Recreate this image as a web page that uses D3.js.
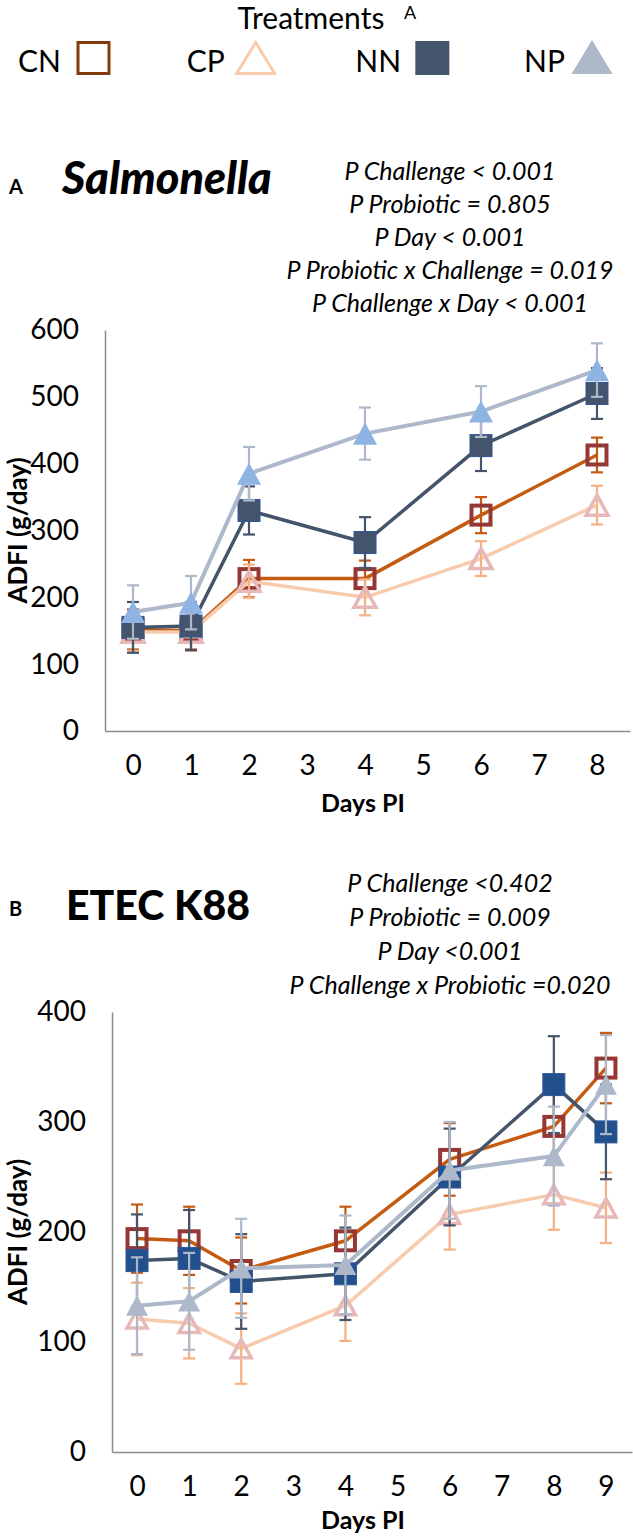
<!DOCTYPE html>
<html><head><meta charset="utf-8">
<script src="https://cdn.jsdelivr.net/npm/d3@7"></script>
<style>
html,body{margin:0;padding:0;background:#fff;}
svg{display:block;font-family:Lato,"Open Sans",sans-serif;}
</style></head>
<body>
<svg id="chart" width="633" height="1537"></svg>
<script>
// ---------- DATA ----------
const treatments = ["CN", "CP", "NN", "NP"];
const legendTitle = "Treatments";

// Panel A: Salmonella
const daysA = [0, 1, 2, 4, 6, 8];
const xTicksA = [0, 1, 2, 3, 4, 5, 6, 7, 8];
const yTicksA = [0, 100, 200, 300, 400, 500, 600];
const cnA = [152, 150, 228, 228, 323, 413];
const cnA_se = [30, 28, 28, 27, 27, 26];
const cpA = [148, 148, 224, 200, 258, 338];
const cpA_se = [28, 28, 25, 27, 26, 29];
const nnA = [155, 157, 330, 282, 427, 505];
const nnA_se = [38, 36, 36, 38, 38, 38];
const npA = [178, 192, 385, 445, 478, 540];
const npA_se = [40, 40, 40, 39, 38, 40];
const statsA = ["P Challenge < 0.001", "P Probiotic = 0.805", "P Day < 0.001",
  "P Probiotic x Challenge = 0.019", "P Challenge x Day < 0.001"];

// Panel B: ETEC K88
const daysB = [0, 1, 2, 4, 6, 8, 9];
const xTicksB = [0, 1, 2, 3, 4, 5, 6, 7, 8, 9];
const yTicksB = [0, 100, 200, 300, 400];
const cnB = [194, 192, 165, 192, 266, 296, 349];
const cnB_se = [31, 31, 30, 31, 33, 35, 32];
const cpB = [121, 117, 94, 133, 216, 234, 222];
const cpB_se = [33, 32, 32, 32, 32, 32, 32];
const nnB = [174, 176, 155, 162, 250, 334, 291];
const nnB_se = [42, 44, 43, 42, 44, 44, 43];
const npB = [133, 137, 167, 170, 256, 269, 334];
const npB_se = [44, 44, 45, 45, 44, 45, 45];
const statsB = ["P Challenge <0.402", "P Probiotic = 0.009", "P Day <0.001",
  "P Challenge x Probiotic =0.020"];

// ---------- STYLE ----------
const lineCol = {CN: "#c55a11", CP: "#f8cbad", NN: "#44546a", NP: "#adb9ca"};
const errCol = {CN: "#c55a11", CP: "#f4b183", NN: "#44546a", NP: "#adb9ca"};
const axisCol = "#8c8c8c";

const svg = d3.select("#chart");

function triPath(cx, cy, w, h) {
  return `M${cx},${cy - h / 2}L${cx + w / 2},${cy + h / 2}L${cx - w / 2},${cy + h / 2}Z`;
}

// ---------- LEGEND ----------
svg.append("text").attr("x", 311).attr("y", 29).attr("text-anchor", "middle")
  .attr("font-size", 30).text(legendTitle);
svg.append("text").attr("x", 410).attr("y", 19).attr("text-anchor", "middle")
  .attr("font-size", 18).text("A");

const legX = d3.scalePoint().domain(treatments).range([18, 524]);
const legG = svg.append("g");
treatments.forEach(t => {
  legG.append("text").attr("x", legX(t)).attr("y", 72).attr("font-size", 30).text(t);
});
// CN open square
legG.append("rect").attr("x", legX("CN") + 60).attr("y", 42.5).attr("width", 31).attr("height", 31)
  .attr("fill", "none").attr("stroke", "#843c0c").attr("stroke-width", 3);
// CP open triangle
legG.append("path").attr("d", triPath(legX("CP") + 69, 58, 38, 31))
  .attr("fill", "none").attr("stroke", "#f8cbad").attr("stroke-width", 3);
// NN filled square
legG.append("rect").attr("x", legX("NN") + 60).attr("y", 41).attr("width", 34).attr("height", 34)
  .attr("fill", "#44546a");
// NP filled triangle
legG.append("path").attr("d", triPath(legX("NP") + 68, 57, 41, 34)).attr("fill", "#adb9ca");

// ---------- PANEL ----------
function panel(cfg) {
  const g = svg.append("g");
  const x = d3.scaleLinear().domain(cfg.xDomain).range(cfg.xRange);
  const y = d3.scaleLinear().domain([0, cfg.yMax]).range(cfg.yRange);

  // panel letter and title
  g.append("text").attr("x", 9).attr("y", cfg.letterY).attr("font-size", 20)
    .attr("font-weight", "bold").text(cfg.letter);
  g.append("text").attr("x", cfg.titleX).attr("y", cfg.titleY).attr("font-size", cfg.titleSize)
    .attr("font-weight", 900).attr("font-style", cfg.titleStyle).text(cfg.title);
  cfg.stats.forEach((s, i) => {
    g.append("text").attr("x", 450).attr("y", cfg.statsY + i * cfg.statsStep).attr("text-anchor", "middle")
      .attr("font-size", 25).attr("font-style", "italic").text(s);
  });

  // axes
  const yAxis = d3.axisLeft(y).tickValues(cfg.yTicks).tickSize(0).tickPadding(26).tickFormat(d3.format("d"));
  const ya = g.append("g").attr("transform", `translate(${cfg.xRange[0]},0)`).call(yAxis);
  const xAxis = d3.axisBottom(x).tickValues(cfg.xTicks).tickSize(0).tickPadding(24).tickFormat(d3.format("d"));
  const xa = g.append("g").attr("transform", `translate(0,${cfg.yRange[0]})`).call(xAxis);
  [ya, xa].forEach(a => {
    a.select(".domain").attr("stroke", axisCol).attr("stroke-width", 1.5);
    a.selectAll("text").attr("font-size", 28).attr("font-family", "Lato").attr("fill", "#000");
  });

  // axis titles
  const midY = (cfg.yRange[0] + cfg.yRange[1]) / 2;
  g.append("text").attr("transform", `translate(${cfg.yTitleX},${midY}) rotate(-90)`)
    .attr("text-anchor", "middle").attr("font-size", 26).attr("font-weight", "bold").text("ADFI (g/day)");
  g.append("text").attr("x", 363).attr("y", cfg.xTitleY).attr("text-anchor", "middle")
    .attr("font-size", 25).attr("font-weight", "bold").text("Days PI");

  const line = d3.line().x(d => x(d.day)).y(d => y(d.v));
  const tw = cfg.triSize, th = cfg.triSize * 0.92;

  cfg.series.forEach(s => {
    const pts = cfg.days.map((day, i) => ({day, v: s.vals[i], se: s.se[i]}));
    g.append("path").datum(pts).attr("d", line).attr("fill", "none")
      .attr("stroke", lineCol[s.name]).attr("stroke-width", s.name === "NP" ? 4 : 3.5)
      .attr("stroke-linejoin", "round");
    const eb = g.append("g").attr("stroke", errCol[s.name]).attr("stroke-width", 2.2);
    pts.forEach(p => {
      const cx = x(p.day);
      eb.append("line").attr("x1", cx).attr("x2", cx).attr("y1", y(p.v - p.se)).attr("y2", y(p.v + p.se));
      [p.v - p.se, p.v + p.se].forEach(v => {
        eb.append("line").attr("x1", cx - 6).attr("x2", cx + 6).attr("y1", y(v)).attr("y2", y(v));
      });
    });
    const mk = g.append("g");
    pts.forEach(p => {
      const cx = x(p.day), cy = y(p.v);
      if (s.name === "CN") {
        mk.append("rect").attr("x", cx - 9.5).attr("y", cy - 9.5).attr("width", 19).attr("height", 19)
          .attr("fill", "none").attr("stroke", "#953735").attr("stroke-width", 4);
      } else if (s.name === "NN") {
        mk.append("rect").attr("x", cx - 11).attr("y", cy - 11).attr("width", 22).attr("height", 22)
          .attr("fill", cfg.nnFill).attr("stroke", "#2f5597").attr("stroke-width", 1);
      } else if (s.name === "CP") {
        mk.append("path").attr("d", triPath(cx, cy, tw - 2, th - 2)).attr("fill", "none")
          .attr("stroke", "#e6b9b8").attr("stroke-width", 3.5);
      } else {
        mk.append("path").attr("d", triPath(cx, cy, tw, th)).attr("fill", cfg.npFill);
      }
    });
  });
}

panel({
  letter: "A", letterY: 194, title: "Salmonella", titleX: 62, titleY: 194, titleSize: 45, titleStyle: "italic",
  stats: statsA, statsY: 180, statsStep: 33,
  xDomain: [-0.483, 8.569], xRange: [105, 630], yMax: 600, yRange: [731, 330],
  xTicks: xTicksA, yTicks: yTicksA, yTitleX: 27, xTitleY: 812, triSize: 24,
  days: daysA, nnFill: "#44546a", npFill: "#8eb4e3",
  series: [
    {name: "CN", vals: cnA, se: cnA_se},
    {name: "CP", vals: cpA, se: cpA_se},
    {name: "NN", vals: nnA, se: nnA_se},
    {name: "NP", vals: npA, se: npA_se}
  ]
});

panel({
  letter: "B", letterY: 916, title: "ETEC K88", titleX: 66, titleY: 920, titleSize: 41, titleStyle: "normal",
  stats: statsB, statsY: 892, statsStep: 34,
  xDomain: [-0.48, 9.5], xRange: [112, 632], yMax: 400, yRange: [1452, 1012],
  xTicks: xTicksB, yTicks: yTicksB, yTitleX: 27, xTitleY: 1529, triSize: 22,
  days: daysB, nnFill: "#21508c", npFill: "#adb9ca",
  series: [
    {name: "CN", vals: cnB, se: cnB_se},
    {name: "CP", vals: cpB, se: cpB_se},
    {name: "NN", vals: nnB, se: nnB_se},
    {name: "NP", vals: npB, se: npB_se}
  ]
});
</script>
</body></html>
